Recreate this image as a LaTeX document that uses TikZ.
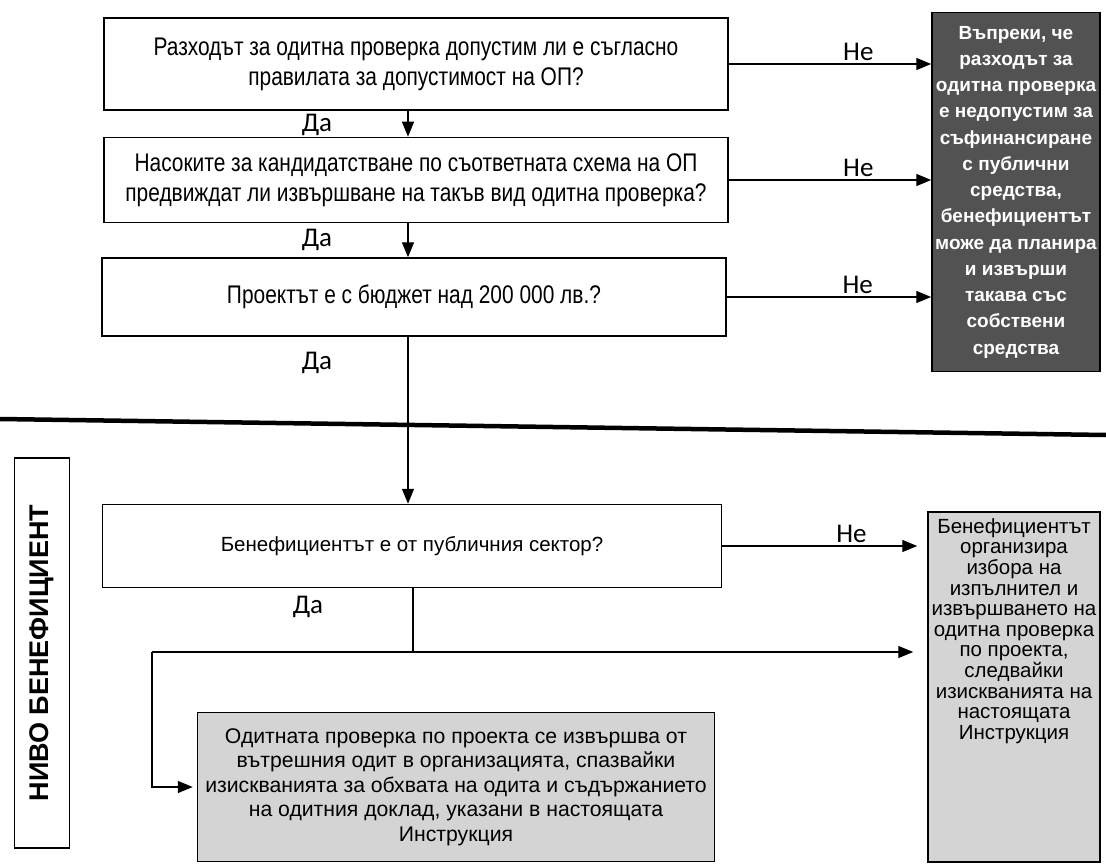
\documentclass[tikz,border=0pt]{standalone}
\usepackage{fontspec}
\setmainfont{Liberation Sans}
\newfontfamily\narrowfont[FakeStretch=0.82]{Liberation Sans}
\newfontfamily\yesnofont{Carlito}
\usetikzlibrary{arrows.meta}
\tikzset{
  qbox/.style={draw, line width=1.5pt, minimum width=624pt, align=center,
    font=\narrowfont\fontsize{25.5}{30}\selectfont},
  arr/.style={line width=1.4pt, -{Triangle[length=15pt,width=12pt]}},
  ln/.style={line width=1.4pt},
  ans/.style={font=\yesnofont\fontsize{27}{30}\selectfont}
}
\begin{document}
\begin{tikzpicture}[x=1pt,y=-1pt,every node/.style={inner sep=0pt}]
\useasboundingbox (0,0) rectangle (1106,864);
\node[qbox,minimum height=92pt] (q1) at (416,64) {Разходът за одитна проверка допустим ли е съгласно\\правилата за допустимост на ОП?};
\node[qbox,minimum height=85pt] (q2) at (416,180) {Насоките за кандидатстване по съответната схема на ОП\\предвиждат ли извършване на такъв вид одитна проверка?};
\node[qbox,minimum height=78pt] (q3) at (414,297) {Проектът е с бюджет над 200 000 лв.?};
\node[qbox,minimum height=83pt,minimum width=619pt,font=\fontsize{20.5}{24}\selectfont] (q4) at (412,546) {Бенефициентът е от публичния сектор?};
\node[draw,line width=1.5pt,fill=black!68,text=white,minimum width=168pt,minimum height=359pt,align=center,font=\bfseries\fontsize{19}{26.25}\selectfont] (own) at (1016,192) {Въпреки, че\\разходът за\\одитна проверка\\е недопустим за\\съфинансиране\\с публични\\средства,\\бенефициентът\\може да планира\\и извърши\\такава със\\собствени\\средства};
\node[draw,line width=1.5pt,fill=black!17,minimum width=172pt,minimum height=350pt] (ext) at (1014,687) {};
\node[anchor=north,align=center,font=\fontsize{20.5}{20.6}\selectfont] (extt) at ([yshift=-7pt]ext.north) {Бенефициентът\\организира\\избора на\\изпълнител и\\извършването на\\одитна проверка\\по проекта,\\следвайки\\изискванията на\\настоящата\\Инструкция};
\node[draw,line width=1.5pt,fill=black!17,minimum width=517pt,minimum height=149pt,align=center,font=\fontsize{21.2}{24.5}\selectfont] (int) at (456,787) {Одитната проверка по проекта се извършва от\\вътрешния одит в организацията, спазвайки\\изискванията за обхвата на одита и съдържанието\\на одитния доклад, указани в настоящата\\Инструкция};
\node[draw,line width=1.5pt,rotate=90,minimum width=390pt,minimum height=55pt,font=\bfseries\fontsize{27}{30}\selectfont] (level) at (42,653) {НИВО БЕНЕФИЦИЕНТ};
\node[ans] (da1) at (317,125) {Да};
\node[ans] (da2) at (317,240) {Да};
\node[ans] (da3) at (317,363) {Да};
\node[ans] (da4) at (308,607) {Да};
\coordinate (mx) at (408,0);
\coordinate (split) at (413,652);
\coordinate (lft) at (152,652);
\draw[line width=4.5pt] (0,419) -- (1106,435);
\draw[arr] (q1.south -| mx) -- (q2.north -| mx);
\draw[arr] (q2.south -| mx) -- (q3.north -| mx);
\draw[arr] (q3.south -| mx) -- (q4.north -| mx);
\draw[arr] (q1.east) -- (own.west |- q1.east) node[ans,pos=0.64,above=3pt] (ne1) {Не};
\draw[arr] (q2.east) -- (own.west |- q2.east) node[ans,pos=0.64,above=3pt] (ne2) {Не};
\draw[arr] (q3.east) -- (own.west |- q3.east) node[ans,pos=0.64,above=3pt] (ne3) {Не};
\draw[arr,shorten >=10pt] (q4.east) -- (ext.west |- q4.east) node[ans,pos=0.63,above=3pt] (ne4) {Не};
\draw[ln] (q4.south -| split) -- (split);
\draw[arr,shorten >=14pt] (lft) -- (ext.west |- lft);
\draw[arr,shorten >=4pt] (lft) |- (int.west);
\end{tikzpicture}
\end{document}
